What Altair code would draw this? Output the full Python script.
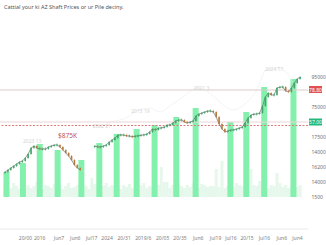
import altair as alt
import pandas as pd

# ---------------- data (levels) ----------------
title_text = "Cattial your ki AZ Shaft Prices or ur Pile deciny."

# daily close level, one value per session (None = no trading)
closes = [24, 26, 28, 30, 32, 34, 35, 38, 42, 48, 50, 48, 47, 47, 47, 49, 50, 51, 51, 49,
          46, 43, 40, 36, 31, 28, 26,
          None, None, None, None,
          50, 49, 49, 50, 51, 54, 56, 58, 61, 61,
          61, 60, 60, 59, 60, 60, 61, 61, 62, 64,
          67, 66, 68, 68, 69, 71, 71, 73, 75, 76,
          76, 74, 73, 74, 75, 80, 82, 83, 84, 85,
          85, 84, 79, 72, 67, 64, 65, 66, 66, 67,
          68, 69, 73, 78, 81, 82, 82, 83, 90, 99,
          103, 101, 101, 108, 109, 109, 105, 104, 108, 113,
          117, 119]

volume = [10, 12, 9, 14, 11, 8, 13, 10, 12, 9,
          11, 15, 10, 8, 12, 11, 9, 13, 10, 12,
          8, 11, 14, 9, 10, 12, 15, 9, 11, 8,
          19, 13, 12, 9, 11, 14, 10, 12, 9, 11,
          8, 12, 10, 13, 9, 11, 10, 12, 14, 9,
          11, 10, 13, 12, 30, 15, 15, 9, 12, 10,
          13, 11, 9, 12, 10, 14, 11, 9, 13, 12,
          10, 11, 11, 28, 10, 36, 9, 11, 13, 10,
          14, 12, 11, 9, 14, 28, 12, 11, 16, 13,
          10, 9, 12, 11, 24, 14, 10, 12, 9, 11,
          13, 10, 12]

bar_t = [0.5, 6.2, 12.0, 18.2, 26.4, 32.6, 38.6, 45.5, 51.7, 59.2, 65.9, 77.9, 83.4, 89.6, 99.7]
bar_top = [24, 33, 52, 46, 36, 53, 62, 67, 71, 79, 88, 74, 84, 109, 117]

ghost_t = [31.8, 36.8, 41.8, 46.2, 50.2, 53.5, 57.5, 61.9, 66.2, 70.2, 74.2, 78.6, 82.9, 87.0, 90.3, 94.3, 97.7, 100.3]
ghost_lv = [68, 74, 78, 86, 88, 84, 91, 100, 108, 104, 94, 86, 92, 106, 126, 128, 122, 108]

note_t = [9.4, 33.4, 46.8, 67.9, 93.0]
note_lv = [55, 70, 85, 108, 127]
note_txt = ["2023 13", "2002 21", "2015 19", "2021 3", "2024 T7"]

x_ticks = [6.92, 11.8, 18.5, 24.1, 29.8, 35.1, 41.0, 47.6, 54.3, 60.3, 66.6, 72.6, 77.9, 83.5, 89.5, 95.5, 100.9]
x_labels = ["20/00", "2016", "Jun7", "Jun6", "Jul17", "2024", "20/31", "2019/6", "20/05",
            "20/35", "Jun6", "Jul19", "Jul16", "20/15", "Jul16", "Jun6", "Jun4"]

y_ticks = [0, 15, 30, 45, 60, 75, 90, 105, 120]
y_labels = ["1500", "14000", "16200", "14000", "17500", "", "75000", "", "95000"]

axis_base = -33
gray_level = 106
pale_level = 74
red_level = 70.5
red_tag = "78,80"
green_tag = "57,00"
note_red = "$875K"
note_red_t = 21.6
note_red_lv = 60.5

# ---------------- tables ----------------
rows = []
prev = None
for i, c in enumerate(closes):
    if c is None:
        prev = None
        continue
    o = prev if prev is not None else c - 1
    lo, hi = min(o, c), max(o, c)
    if hi - lo < 1.2:
        m = (hi + lo) / 2
        lo, hi = m - 0.6, m + 0.6
    rows.append(dict(t=i, close=c, seg=0 if i < 27 else 1, blo=lo, bhi=hi,
                     wlo=lo - 1.0, whi=hi + 1.0, up="up" if c >= o else "down"))
    prev = c
price = pd.DataFrame(rows)
vol = pd.DataFrame(dict(t=list(range(len(volume))), base=-1, top=[v - 1 for v in volume]))
bars = pd.DataFrame(dict(t=bar_t, base=-1, top=bar_top))
ghost = pd.DataFrame(dict(t=ghost_t, lv=ghost_lv))
notes = pd.DataFrame(dict(t=note_t, lv=note_lv, txt=note_txt))
levels = pd.DataFrame(dict(lv=[gray_level, pale_level, red_level, axis_base],
                           kind=["gray", "pale", "red", "base"]))
tags = pd.DataFrame(dict(lv=[gray_level + 0.5, pale_level],
                         txt=[red_tag, green_tag], kind=["r", "g"]))
one = pd.DataFrame(dict(a=[1]))

# ---------------- scales & axes ----------------
xs = alt.Scale(domain=[0, 103], nice=False, zero=False)
ys = alt.Scale(domain=[-33, 180], nice=False, zero=False)


def lookup_expr(vals, labs):
    expr = "''"
    for v, s in reversed(list(zip(vals, labs))):
        expr = "abs(datum.value-%s)<0.01?'%s':(%s)" % (v, s, expr)
    return expr


x_expr = lookup_expr(x_ticks, x_labels)
y_expr = lookup_expr(y_ticks, y_labels)
xax = alt.Axis(values=x_ticks, labelExpr=x_expr, grid=False, ticks=False, domain=False,
               labelFontSize=5, labelColor="#808080",
               labelPadding=6, labelOverlap=False, title=None)
yax = alt.Axis(values=y_ticks, labelExpr=y_expr, orient="right", grid=False, ticks=False,
               domain=False, labelFontSize=5, labelColor="#707070", labelPadding=3,
               labelOverlap=False, title=None)


def X(f="t"):
    return alt.X(f + ":Q", scale=xs, axis=xax, title=None)


def Y(f):
    return alt.Y(f + ":Q", scale=ys, axis=yax, title=None)


vol_l = alt.Chart(vol).mark_bar(size=3, color="#e6f7eb").encode(x=X(), y=Y("base"), y2="top")
bar_l = alt.Chart(bars).mark_bar(size=6, color="#84f0ad").encode(x=X(), y=Y("base"), y2="top")
ghost_l = alt.Chart(ghost).mark_line(color="#ebebeb", strokeWidth=0.6, interpolate="monotone").encode(x=X(), y=Y("lv"))
rule_l = alt.Chart(levels).mark_rule().encode(
    y=Y("lv"),
    color=alt.Color("kind:N", scale=alt.Scale(domain=["gray", "pale", "red", "base"],
                                              range=["#dccaca", "#ebd3d3", "#e07a7a", "#e8e8e8"]), legend=None),
    strokeDash=alt.StrokeDash("kind:N", scale=alt.Scale(domain=["gray", "pale", "red", "base"],
                                                        range=[[1, 0], [1, 0], [2, 1.5], [1, 0]]), legend=None),
    strokeWidth=alt.value(1),
)
line_l = alt.Chart(price).mark_line(color="#4b5a50", strokeWidth=0.6).encode(x=X(), y=Y("close"), detail="seg:N")
ccol = alt.Color("up:N", scale=alt.Scale(domain=["up", "down"], range=["#45a56a", "#b97a42"]), legend=None)
wick_l = alt.Chart(price).mark_rule(strokeWidth=0.5).encode(x=X(), y=Y("wlo"), y2="whi", color=ccol)
body_l = alt.Chart(price).mark_bar(size=1.6).encode(x=X(), y=Y("blo"), y2="bhi", color=ccol)
note_l = alt.Chart(notes).mark_text(fontSize=5, color="#d4d4d4").encode(x=X(), y=Y("lv"), text="txt:N")
red_note = alt.Chart(pd.DataFrame(dict(t=[note_red_t], lv=[note_red_lv], txt=[note_red]))).mark_text(
    fontSize=6.5, color="#c0504d").encode(x=X(), y=Y("lv"), text="txt:N")
tag_box = alt.Chart(tags).mark_rect().encode(
    x=alt.value(309), x2=alt.value(322),
    y=alt.Y("lo:Q", scale=ys, axis=yax, title=None), y2="hi:Q",
    color=alt.Color("kind:N", scale=alt.Scale(domain=["r", "g"], range=["#e0524f", "#22b97a"]), legend=None),
).transform_calculate(lo="datum.lv - 3.5", hi="datum.lv + 3.5")
tag_txt = alt.Chart(tags).mark_text(fontSize=5, color="white", align="center").encode(
    x=alt.value(315.5), y=Y("lv"), text="txt:N")
title_l = alt.Chart(one).mark_text(text=title_text, fontSize=5.5, color="#555555", align="left",
                                   baseline="middle").encode(x=alt.value(4), y=alt.value(-9))

chart = alt.layer(vol_l, bar_l, ghost_l, rule_l, line_l, wick_l, body_l, note_l, red_note,
                  tag_box, tag_txt, title_l).resolve_scale(color="independent", strokeDash="independent").properties(
    width=308, height=213,
    autosize=alt.AutoSizeParams(type="none"),
    padding={"left": 0, "top": 16, "right": 18, "bottom": 16},
).configure(font="Noto Sans", view=alt.ViewConfig(stroke=None))

chart.save("out.html", embed_options={"renderer": "svg", "actions": False})
